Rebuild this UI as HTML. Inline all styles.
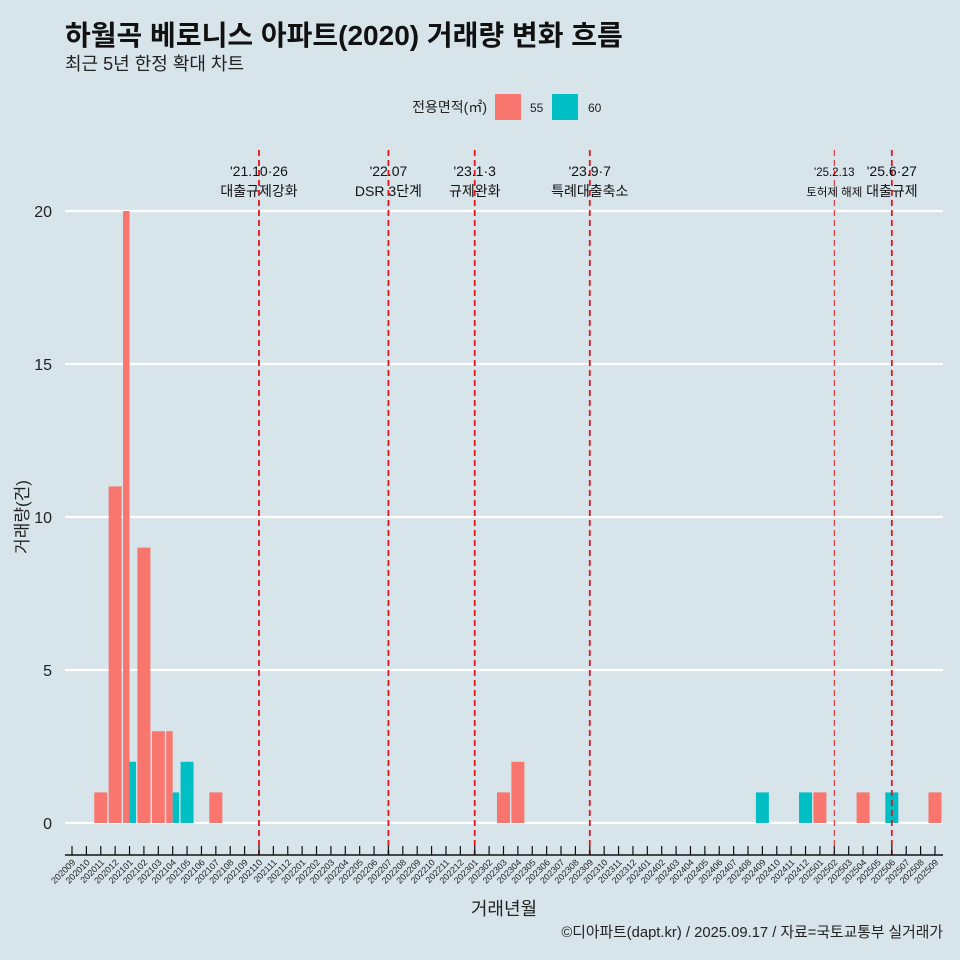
<!DOCTYPE html>
<html><head><meta charset="utf-8"><style>
body{margin:0;background:#d7e4ea;}
svg{display:block;font-family:"Liberation Sans","Noto Sans CJK KR",sans-serif;}
</style></head><body>
<svg id="c" width="960" height="960">
<rect width="960" height="960" fill="#d7e4ea"/>
<text x="65" y="45" font-size="28" font-weight="bold" fill="#111">하월곡 베로니스 아파트(2020) 거래량 변화 흐름</text>
<text x="65" y="70" font-size="18" fill="#222">최근 5년 한정 확대 차트</text>
<g>
<text x="487" y="112" font-size="14" text-anchor="end" fill="#222">전용면적(㎡)</text>
<rect x="495" y="94" width="26" height="26" fill="#F8766D"/>
<text x="530" y="112" font-size="12" fill="#222">55</text>
<rect x="552" y="94" width="26" height="26" fill="#00BFC4"/>
<text x="588" y="112" font-size="12" fill="#222">60</text>
</g>
<g id="grid"></g><g id="bars"></g><g id="events"></g><g id="xaxis"></g>
<text x="28" y="517" font-size="17" text-anchor="middle" transform="rotate(-90 28 517)" fill="#222">거래량(건)</text>
<text x="504" y="915" font-size="18" text-anchor="middle" fill="#222">거래년월</text>
<text x="943" y="937" font-size="14.8" text-anchor="end" fill="#222">©디아파트(dapt.kr) / 2025.09.17 / 자료=국토교통부 실거래가</text>
</svg>
<script>
const months=[];for(let y=2020,m=9;!(y===2025&&m===10);){months.push(y+String(m).padStart(2,'0'));m++;if(m>12){m=1;y++;}}
const yTicks=[0,5,10,15,20];
const s55Months=['202011','202012','202101','202102','202103','202104','202107','202303','202304','202501','202504','202509'];
const s55Values=[1,11,20,9,3,3,1,1,2,1,1,1];
const s60Months=['202101','202104','202105','202409','202412','202506'];
const s60Values=[2,1,2,1,1,1];
const eventMonths=['202110','202207','202301','202309','202502','202506'];
const eventLine1=["'21.10·26","'22.07","'23.1·3","'23.9·7","'25.2.13","'25.6·27"];
const eventLine2=["대출규제강화","DSR 3단계","규제완화","특례대출축소","토허제 해제","대출규제"];
const NS='http://www.w3.org/2000/svg';
const X=i=>72+i*14.383, Y=v=>823-v*30.6;
function mk(t,a,p){const e=document.createElementNS(NS,t);for(const k in a)e.setAttribute(k,a[k]);p.appendChild(e);return e;}
const grid=document.getElementById('grid');
yTicks.forEach(v=>{
 const l=mk('line',{x1:65,x2:943,y1:Y(v),y2:Y(v),stroke:'#fff','stroke-width':2.2},grid);
 
 
 const t=mk('text',{x:52,y:Y(v)+6,'font-size':16,'text-anchor':'end',fill:'#222'},grid);t.textContent=v;
 
 
});
const bars=document.getElementById('bars');const W=13;
function drawBar(mo,v,col,series){
 const i=months.indexOf(mo);const both=s55Months.includes(mo)&&s60Months.includes(mo);
 let x=X(i)-W/2,w=W;if(both){w=W/2;if(series==='60')x+=W/2;}
 const r=mk('rect',{x:x,y:Y(v),width:w,height:Y(0)-Y(v),fill:col},bars);
 
 
}
s55Months.forEach((m,k)=>drawBar(m,s55Values[k],'#F8766D','55'));
s60Months.forEach((m,k)=>drawBar(m,s60Values[k],'#00BFC4','60'));
const ev=document.getElementById('events');
eventMonths.forEach((m,k)=>{
 const x=X(months.indexOf(m));const thin=m==='202502';
 const l=mk('line',{x1:x,x2:x,y1:150,y2:855,stroke:'#e8141c','stroke-width':thin?1:1.8,'stroke-dasharray':'6,4'},ev);
 
 
 const fs=thin?11.5:14;
 const t1=mk('text',{x:x,y:176,'font-size':fs,'text-anchor':'middle',fill:'#111'},ev);t1.textContent=eventLine1[k];
 
 
 const t2=mk('text',{x:x,y:196,'font-size':fs,'text-anchor':'middle',fill:'#111'},ev);t2.textContent=eventLine2[k];
 
 
});
const xa=document.getElementById('xaxis');
const al=mk('line',{x1:65,x2:943,y1:855,y2:855,stroke:'#111','stroke-width':1.5},xa);


months.forEach((m,i)=>{
 const x=X(i);
 const tk=mk('line',{x1:x,x2:x,y1:846,y2:855,stroke:'#111','stroke-width':1.2},xa);
 
 
 const t=mk('text',{x:x+4,y:863,'font-size':9,'text-anchor':'end',fill:'#222',transform:`rotate(-45 ${x+4} 863)`},xa);t.textContent=m;
 
 
});
</script>
</body></html>
